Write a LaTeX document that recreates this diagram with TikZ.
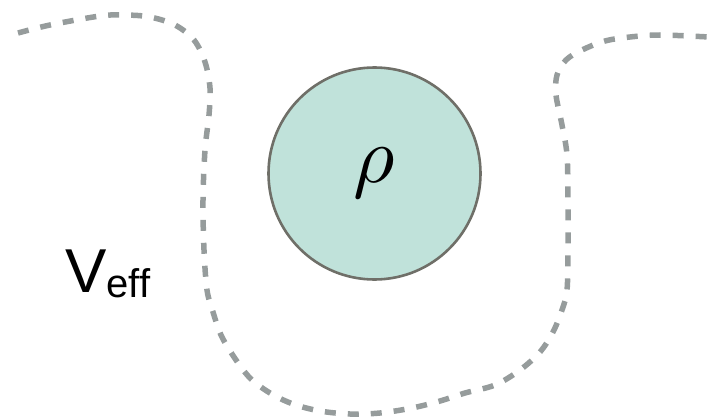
\documentclass[tikz,border=0pt]{standalone}
\usepackage{fontspec}
\usepackage{graphicx}
\newfontfamily\labelfont{Liberation Sans}
\definecolor{dashgray}{HTML}{969C9C}
\definecolor{cellfill}{HTML}{C0E2DA}
\definecolor{celledge}{HTML}{6F6F68}
\begin{document}
\begin{tikzpicture}[x=1pt,y=-1pt,
  wall/.style={draw=dashgray,line width=5.5pt,dash pattern=on 11pt off 12pt},
  cell/.style={circle,draw=celledge,fill=cellfill,line width=2.6pt,minimum size=212pt,inner sep=0pt},
  lbl/.style={inner sep=0pt}]
\useasboundingbox (0,0) rectangle (709,420);
\draw[wall] plot[smooth,tension=0.55] coordinates {
(18,33) (50,25) (100,16) (125,15) (150,17) (175,25) (194,40) (205,62) (210,88) (209,115) (205,150) (203,200) (204,250) (207,290) (213,312) (221,335) (234,357) (250,378) (270,393) (293,404) (320,411) (350,414) (380,413) (412,408) (440,401) (465,393) (495,385) (520,370) (540,352) (553,332) (562,310) (567,290) (568,250) (568,200) (567,155) (562,125) (556,95) (557,75) (566,60) (582,50) (605,41) (630,37) (660,35) (709,37)};
\node[cell] (rho) at (374.5,173.5) {\scalebox{8}{$\rho$}};
\node[lbl,anchor=base west] (veff) at (65,292) {\labelfont\fontsize{62}{62}\selectfont V\raisebox{-5pt}{\fontsize{40}{40}\selectfont eff}};
\end{tikzpicture}
\end{document}
